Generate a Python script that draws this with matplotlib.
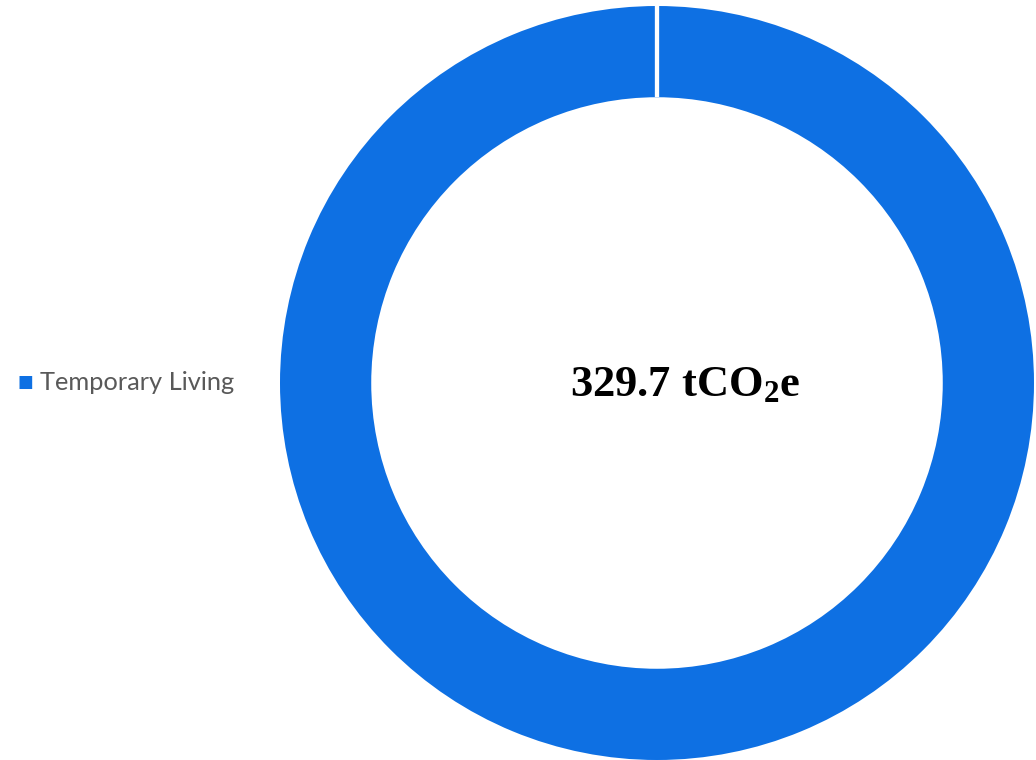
import matplotlib
matplotlib.use("Agg")
import matplotlib.pyplot as plt
import numpy as np

categories = ["Temporary Living"]
values = [329.7]
colors = ["#0E70E3"]
unit_label = "tCO$_{\\mathbf{2}}$e"

plt.rcParams["mathtext.fontset"] = "custom"
plt.rcParams["mathtext.rm"] = "Liberation Serif:bold"
plt.rcParams["mathtext.bf"] = "Liberation Serif:bold"
plt.rcParams["mathtext.it"] = "Liberation Serif:bold"

W, H = 1036, 760
fig = plt.figure(figsize=(W / 100, H / 100), dpi=100)

cx, cy, r = 657, 383, 377
ring = 0.242
ax = fig.add_axes([(cx - r) / W, (H - cy - r) / H, 2 * r / W, 2 * r / H])
wedges, _ = ax.pie(values, colors=colors, startangle=90, counterclock=False,
                   radius=1.0, wedgeprops=dict(width=ring, edgecolor="none"))

# white separators at each slice boundary
for w in wedges:
    for ang in (w.theta1, w.theta2):
        a = np.deg2rad(ang)
        ax.plot([(1 - ring) * np.cos(a), np.cos(a)],
                [(1 - ring) * np.sin(a), np.sin(a)],
                color="white", lw=3, solid_capstyle="butt", zorder=3)

ax.set_xlim(-1, 1)
ax.set_ylim(-1, 1)
ax.set_aspect("equal")
ax.axis("off")

total = sum(values)
ax.text(0.074, -0.005, f"{total:.1f} " + unit_label, ha="center", va="center",
        fontsize=32, fontweight="bold", family="Liberation Serif", color="black")

# legend on the left
fig.text(25 / W, 1 - 382 / H, "\u25A0", ha="center", va="center",
         fontsize=12, color=colors[0], family="DejaVu Sans")
fig.text(40 / W, 1 - 382 / H, categories[0], ha="left", va="center",
         fontsize=18.3, color="#595959", family="Lato")

fig.savefig("out.png", dpi=100)
